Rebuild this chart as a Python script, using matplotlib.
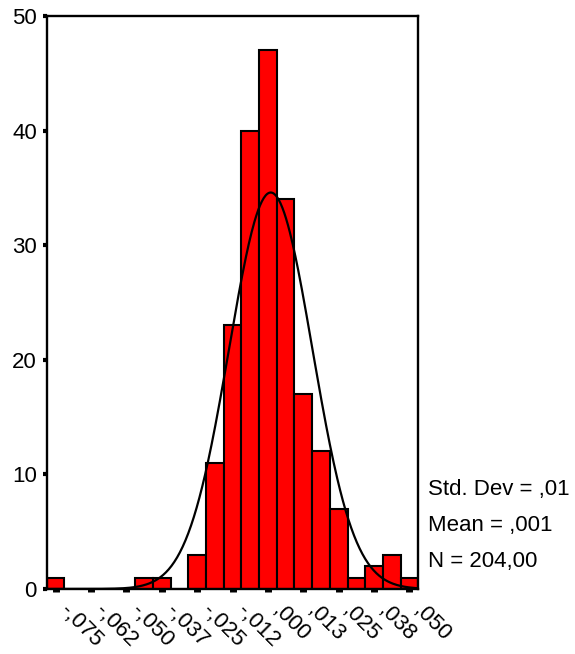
import numpy as np
import matplotlib
matplotlib.use("Agg")
import matplotlib.pyplot as plt
import matplotlib.transforms as mtrans

plt.rcParams['font.family'] = ['Liberation Sans', 'DejaVu Sans']

# histogram data (bin centres start at -0.075, width 0.00625)
bin_start = -0.075
bin_width = 0.00625
counts = [1, 0, 0, 0, 0, 1, 1, 0, 3, 11, 23, 40, 47, 34, 17, 12, 7, 1, 2, 3, 1]
tick_labels = ["-,075", "-,062", "-,050", "-,037", "-,025", "-,012",
               ",000", ",013", ",025", ",038", ",050"]
stats_text = ["Std. Dev = ,01", "Mean = ,001", "N = 204,00"]
fit_mean = 0.001
fit_sd = 0.0147
n_total = 204

centers = bin_start + bin_width * np.arange(len(counts))

fig = plt.figure(figsize=(5.75, 6.54), dpi=100)
ax = fig.add_axes([0.0812, 0.0994, 0.6463, 0.876])

ax.bar(centers, counts, width=bin_width, color='#ff0000', edgecolor='black',
       linewidth=1.5, zorder=2)

# normal curve
xs = np.linspace(centers[0] - bin_width / 2, centers[-1] + bin_width / 2, 400)
ys = n_total * bin_width / (fit_sd * np.sqrt(2 * np.pi)) * np.exp(-0.5 * ((xs - fit_mean) / fit_sd) ** 2)
ax.plot(xs, ys, color='black', linewidth=1.6, zorder=3)

ax.set_xlim(centers[0] - bin_width / 2, centers[-1] + bin_width / 2)
ax.set_ylim(0, 50)

ax.set_yticks([0, 10, 20, 30, 40, 50])
ax.set_yticklabels(["0", "10", "20", "30", "40", "50"], fontsize=16)
ax.set_xticks(centers[::2])
ax.set_xticklabels(tick_labels, fontsize=16, rotation=-45, ha='left',
                   va='top', rotation_mode='anchor')

ax.tick_params(axis='y', direction='out', length=3, width=3, pad=4)
ax.tick_params(axis='x', direction='out', length=2.5, width=5, pad=6)
offset = mtrans.ScaledTranslation(15 / 100, 0, fig.dpi_scale_trans)
for lbl in ax.get_xticklabels():
    lbl.set_transform(lbl.get_transform() + offset)

for s in ax.spines.values():
    s.set_linewidth(1.7)

# stats text to the right
for i, t in enumerate(stats_text):
    fig.text(428 / 575, 1 - (489.5 + 36 * i) / 654, t, fontsize=16,
             ha='left', va='center')

fig.savefig("out.png", dpi=100)
